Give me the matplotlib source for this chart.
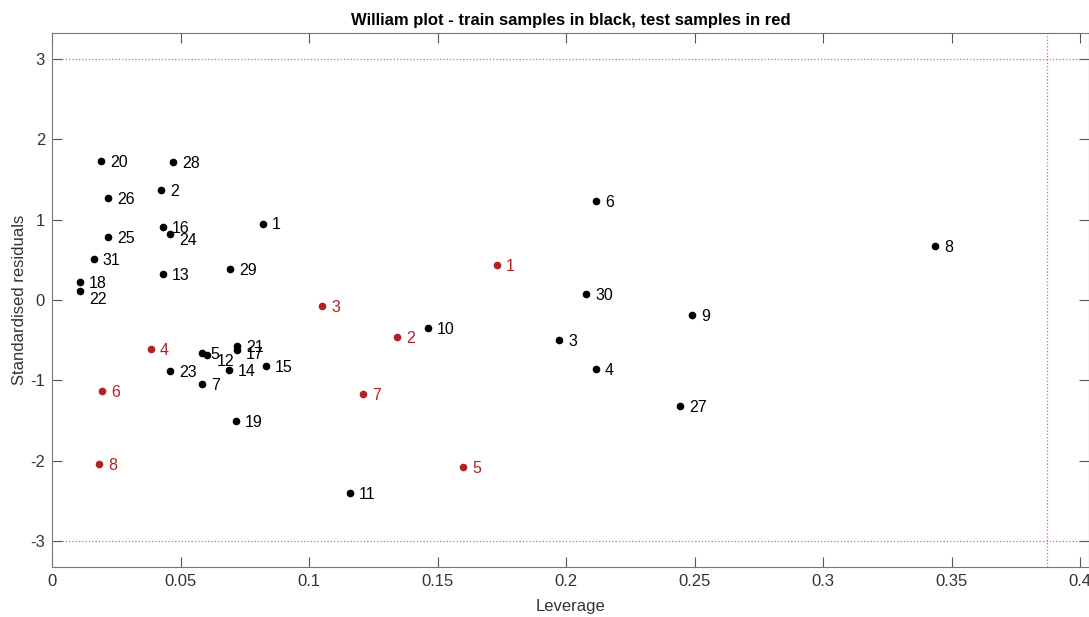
import numpy as np
import matplotlib.pyplot as plt

plt.rcParams['font.family'] = ['Liberation Sans', 'DejaVu Sans']
plt.rcParams['axes.unicode_minus'] = False

# train samples (leverage, standardised residual)
train_id = [1, 2, 3, 4, 5, 6, 7, 8, 9, 10, 11, 12, 13, 14, 15, 16,
            17, 18, 19, 20, 21, 22, 23, 24, 25, 26, 27, 28, 29, 30, 31]
train_lev = [0.0821, 0.0424, 0.1973, 0.2117, 0.0582, 0.2117, 0.0584, 0.3436,
             0.2490, 0.1463, 0.1160, 0.0605, 0.0432, 0.0689, 0.0833, 0.0432,
             0.0720, 0.0109, 0.0716, 0.0191, 0.0720, 0.0109, 0.0459, 0.0459,
             0.0218, 0.0218, 0.2444, 0.0471, 0.0693, 0.2078, 0.0163]
train_res = [0.95, 1.37, -0.50, -0.86, -0.665, 1.23, -1.05, 0.67,
             -0.19, -0.35, -2.40, -0.68, 0.32, -0.87, -0.82, 0.91,
             -0.62, 0.224, -1.51, 1.73, -0.57, 0.112, -0.88, 0.82,
             0.785, 1.27, -1.32, 1.71, 0.386, 0.075, 0.51]

# test samples
test_id = [1, 2, 3, 4, 5, 6, 7, 8]
test_lev = [0.1732, 0.1342, 0.1051, 0.0385, 0.1600, 0.0195, 0.1210, 0.0183]
test_res = [0.436, -0.46, -0.075, -0.61, -2.08, -1.13, -1.17, -2.04]

h_star = 3 * 4 / 31
red = '#B22222'
# a few labels sit a little lower in the original
nudge = {22: -5, 24: -4, 12: -4, 17: -2}

fig = plt.figure(figsize=(10.89, 6.17), dpi=100)
ax = fig.add_axes([52 / 1089, 50 / 617, 1 - 52 / 1089, 534 / 617])

ax.plot(train_lev, train_res, 'o', color='black', ms=4.5)
ax.plot(test_lev, test_res, 'o', color=red, ms=4.5)

for i, xv, yv in zip(train_id, train_lev, train_res):
    ax.annotate(str(i), (xv, yv), xytext=(6.5, -1 + nudge.get(i, 0)),
                textcoords='offset points', va='center', ha='left',
                fontsize=11.5, color='black')
for i, xv, yv in zip(test_id, test_lev, test_res):
    ax.annotate(str(i), (xv, yv), xytext=(6.5, -1), textcoords='offset points',
                va='center', ha='left', fontsize=11.5, color=red)

ax.axhline(3, color='#E83A3A', ls=':', lw=0.9, alpha=0.8)
ax.axhline(-3, color='#E83A3A', ls=':', lw=0.9, alpha=0.8)
ax.axvline(h_star, color='#E83A3A', ls=':', lw=0.9, alpha=0.8)

ax.set_xlim(0, 0.4035)
ax.set_ylim(-3.32, 3.32)
ax.set_xticks([0, 0.05, 0.1, 0.15, 0.2, 0.25, 0.3, 0.35, 0.4])
ax.set_xticklabels(['0', '0.05', '0.1', '0.15', '0.2', '0.25', '0.3', '0.35', '0.4'])
ax.set_yticks([-3, -2, -1, 0, 1, 2, 3])

ax.tick_params(direction='in', length=7, width=0.8, top=True, right=True,
               labelsize=12, colors='#555555', labelcolor='#333333', pad=5)
for s in ax.spines.values():
    s.set_color('#777777')
    s.set_linewidth(0.8)

ax.set_title('William plot - train samples in black, test samples in red',
             fontsize=12, fontweight='bold', pad=6)
ax.set_xlabel('Leverage', fontsize=12, color='#333333', labelpad=7)
ax.set_ylabel('Standardised residuals', fontsize=12, color='#333333', labelpad=2)

fig.savefig('out.png', dpi=100)
